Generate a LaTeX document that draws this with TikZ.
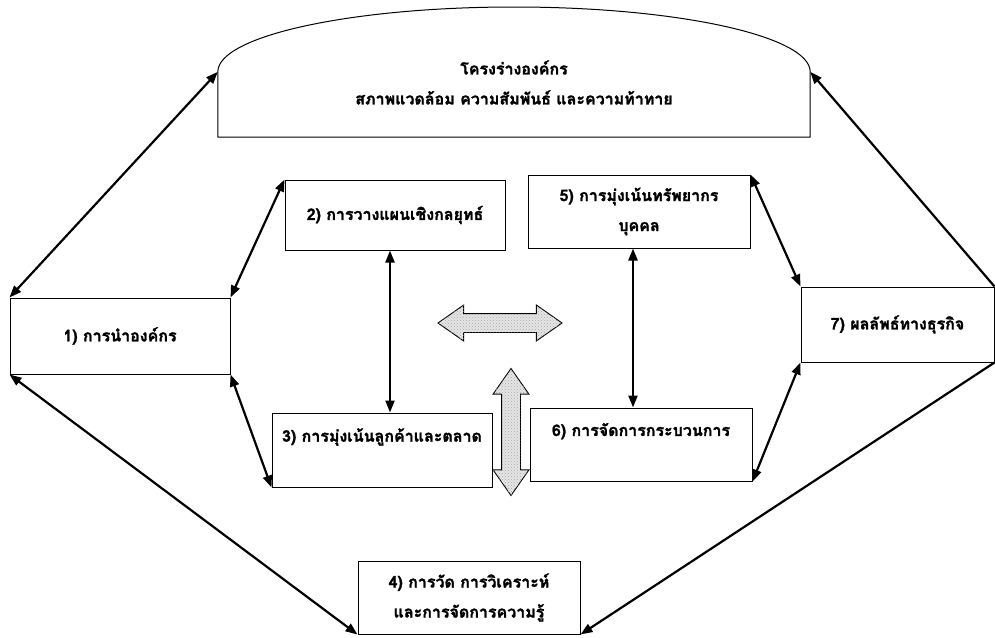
\documentclass[tikz,border=0pt]{standalone}
\usepackage{fontspec}
\newfontfamily\thaifont[Script=Thai, BoldFeatures={FakeBold=1.6}]{Loma}
\usetikzlibrary{arrows.meta, shapes.arrows, patterns}
\definecolor{BLACK}{HTML}{000000}
\definecolor{SHADE}{HTML}{E6E6E6}

\begin{document}
\begin{tikzpicture}[x=1pt, y=-1pt,
    thai/.style={font=\thaifont\bfseries\fontsize{16}{30}\selectfont, align=center},
    box/.style={thai, draw=BLACK, line width=1pt, inner sep=0pt, minimum width=220pt, minimum height=74pt},
    link/.style={BLACK, line width=2.2pt, {Triangle[length=12pt,width=9pt]}-{Triangle[length=12pt,width=9pt]}},
    onelink/.style={BLACK, line width=2.2pt, -{Triangle[length=12pt,width=9pt]}},
    fat/.style={double arrow, draw=BLACK, line width=0.9pt, fill=SHADE, inner xsep=0pt, inner ysep=9pt,
        double arrow head extend=8.5pt, double arrow tip angle=70,
        postaction={pattern=crosshatch dots, pattern color=gray!70}}]
    \useasboundingbox (0,0) rectangle (995,637);

    % frame box with arched top
    \node[minimum width=592pt, minimum height=65pt, inner sep=0pt] (frame) at (514,104.5) {};
    \node[thai] (frametext) at (514,82.5) {โครงร่างองค์กร\\ สภาพแวดล้อม ความสัมพันธ์ และความท้าทาย};
    \draw[BLACK, line width=1pt] (frame.north west) -- (frame.south west) -- (frame.south east) -- (frame.north east)
        .. controls (810,36) and (677,7) .. (514,7) .. controls (351,7) and (218,36) .. (frame.north west);

    % categories
    \node[box, minimum height=76pt] (lead) at (120,336) {1) การนำองค์กร};
    \node[box, minimum height=70pt] (plan) at (395,215) {2) การวางแผนเชิงกลยุทธ์};
    \node[box] (market) at (382,450) {3) การมุ่งเน้นลูกค้าและตลาด\\ \mbox{}};
    \node[box, minimum width=222pt, minimum height=73pt] (know) at (469,597.5) {4) การวัด การวิเคราะห์\\ และการจัดการความรู้};
    \node[box, minimum width=222pt, minimum height=73pt] (hr) at (639,211.5) {5) การมุ่งเน้นทรัพยากร\\ บุคคล};
    \node[box, minimum width=222pt, minimum height=73pt] (process) at (641,444.5) {6) การจัดการกระบวนการ\\ \mbox{}};
    \node[box, minimum width=193pt, minimum height=75pt] (result) at (897.5,324.5) {7) ผลลัพธ์ทางธุรกิจ};

    % links
    \draw[link] (frame.north west) -- (lead.north west);
    \draw[onelink] (result.north east) -- (frame.north east);
    \draw[link] (lead.south west) -- (know.south west);
    \draw[onelink] (result.south east) -- (know.south east);
    \draw[link] (lead.north east) -- (plan.north west);
    \draw[link] (lead.south east) -- (market.south west);
    \draw[link] (hr.north east) -- (result.north west);
    \draw[link] (process.south east) -- (result.south west);
    \draw[link] ([xshift=-5pt]plan.south) -- ([xshift=8pt]market.north);
    \draw[link] ([xshift=-6pt]hr.south) -- ([xshift=-8pt]process.north);

    % hollow arrows
    \node[fat, minimum height=124pt] (hfat) at (500,323) {};
    \node[fat, minimum height=127pt, rotate=90] (vfat) at (511,432) {};
\end{tikzpicture}
\end{document}
